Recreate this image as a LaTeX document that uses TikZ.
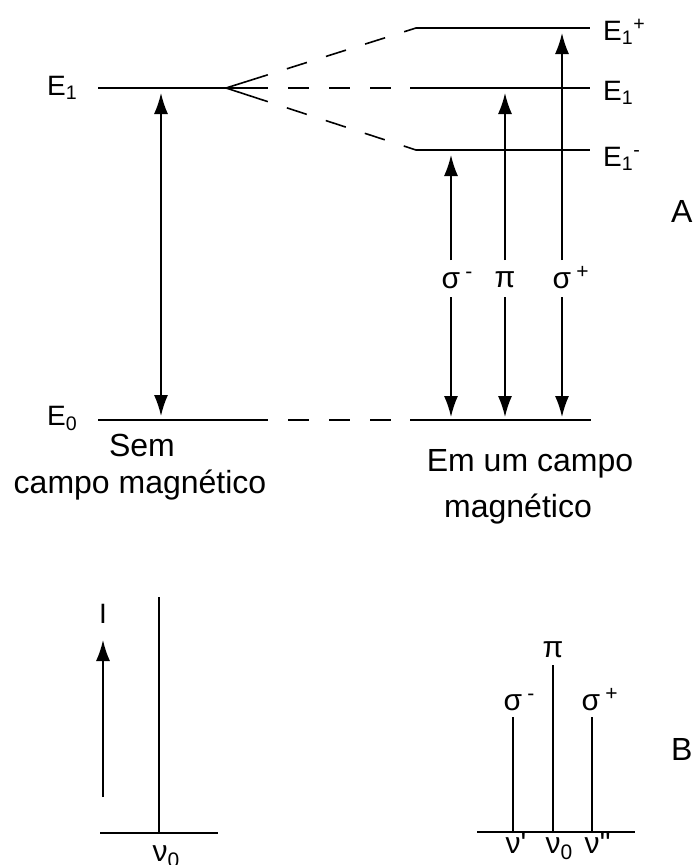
\documentclass[tikz,border=0pt]{standalone}
\usepackage{fontspec}
\newfontfamily\diagfont{Liberation Sans}
\usepackage{tikz}
\tikzset{
	level/.style={line width=1.6pt},
	split/.style={line width=1.6pt,dash pattern=on 21pt off 20pt,dash phase=21pt},
	trans/.style={line width=1.6pt,>={Latex[length=21pt,width=14pt]}},
	elabel/.style={anchor=base west,inner sep=0pt,font=\diagfont\fontsize{28}{32}\selectfont},
	greek/.style={anchor=base,inner sep=0pt,font=\diagfont\fontsize{30}{34}\selectfont},
	words/.style={anchor=base,inner sep=0pt,font=\diagfont\fontsize{32}{38}\selectfont}
}
\usetikzlibrary{calc,arrows.meta}

\begin{document}
\begin{tikzpicture}[x=1pt,y=-1pt]
\useasboundingbox (0,0) rectangle (694,865);
%
\coordinate (E1a) at (98,88);
\coordinate (S) at (226,88);
\coordinate (E1b) at (268,88);
\coordinate (E1c) at (410,88);
\coordinate (E1d) at (590,88);
\coordinate (E1pa) at (416,28);
\coordinate (E1pb) at (590,28);
\coordinate (E1ma) at (416,150);
\coordinate (E1mb) at (590,150);
\coordinate (Fu) at ($(S)!0.22!(E1pa)$);
\coordinate (Fd) at ($(S)!0.22!(E1ma)$);
\coordinate (E0a) at (98,420);
\coordinate (E0b) at (268,420);
\coordinate (E0c) at (410,420);
\coordinate (E0d) at (591,420);
%
\draw[level] (E1a) to (E1b);
\draw[level] (Fu) to (S) to (Fd);
\draw[split] (E1b) to (E1c);
\draw[split] (Fu) to (E1pa);
\draw[split] (Fd) to (E1ma);
\draw[level] (E1c) to (E1d);
\draw[level] (E1pa) to (E1pb);
\draw[level] (E1ma) to (E1mb);
\draw[level] (E0a) to (E0b);
\draw[split] (E0b) to (E0c);
\draw[level] (E0c) to (E0d);
%
\node[elabel] (lE1) at (47,95) {E\textsubscript{1}};
\node[elabel] (lE0) at (47,425) {E\textsubscript{0}};
\node[elabel] (lE1p) at (603,40) {E\textsubscript{1}\textsuperscript{+}};
\node[elabel] (lE1r) at (603,100) {E\textsubscript{1}};
\node[elabel] (lE1m) at (603,166) {E\textsubscript{1}\textsuperscript{-}};
%
\coordinate (t0) at (161,416);
\coordinate (t1) at (161,93);
\draw[trans,<->] (t0) to (t1);
%
\coordinate (sm1) at (451,155);
\coordinate (smU) at (451,260);
\coordinate (smD) at (451,297);
\coordinate (sm0) at (451,417);
\coordinate (pi1) at (505,93);
\coordinate (piU) at (505,260);
\coordinate (piD) at (505,297);
\coordinate (pi0) at (505,417);
\coordinate (sp1) at (562,33);
\coordinate (spU) at (562,260);
\coordinate (spD) at (562,297);
\coordinate (sp0) at (562,417);
\draw[trans,->] (smU) to (sm1);
\draw[trans,->] (smD) to (sm0);
\draw[trans,->] (piU) to (pi1);
\draw[trans,->] (piD) to (pi0);
\draw[trans,->] (spU) to (sp1);
\draw[trans,->] (spD) to (sp0);
\node[greek] (lsm) at (451,288) {σ\rlap{\hspace{5pt}\textsuperscript{-}}};
\node[greek] (lpi) at (505,287) {π};
\node[greek] (lsp) at (562,288) {σ\rlap{\hspace{5pt}\textsuperscript{+}}};
%
\node[words] (sem) at (142,456) {Sem};
\node[words] (semb) at (140,493) {campo magnético};
\node[words] (com) at (530,471) {Em um campo};
\node[words] (comb) at (518,517) {magnético};
\node[words,anchor=base west] (A) at (671,222) {A};
\node[words,anchor=base west] (B) at (671,760) {B};
%
\coordinate (b0a) at (100,833);
\coordinate (b0b) at (218,833);
\coordinate (n0) at (159,833);
\coordinate (n0t) at (159,597);
\coordinate (Ib) at (103,797);
\coordinate (It) at (103,640);
\draw[level] (b0a) to (b0b);
\draw[level] (n0) to (n0t);
\draw[trans,->] (Ib) to (It);
\node[elabel,anchor=base] (lI) at (103,623) {I};
\node[greek] (ln0) at (160,861) {ν\rlap{\textsubscript{0}}};
%
\coordinate (c0a) at (477,832);
\coordinate (c0b) at (635,832);
\coordinate (csm0) at (513,832);
\coordinate (csm) at (513,717);
\coordinate (cpi0) at (553,832);
\coordinate (cpi) at (553,665);
\coordinate (csp0) at (592,832);
\coordinate (csp) at (592,717);
\draw[level] (c0a) to (c0b);
\draw[level] (csm0) to (csm);
\draw[level] (cpi0) to (cpi);
\draw[level] (csp0) to (csp);
\node[greek] (bsm) at (513,710) {σ\rlap{\hspace{5pt}\textsuperscript{-}}};
\node[greek] (bpi) at (553,657) {π};
\node[greek] (bsp) at (591,710) {σ\rlap{\hspace{5pt}\textsuperscript{+}}};
\node[greek] (nu1) at (513,853) {ν\rlap{'}};
\node[greek] (nu0) at (553,853) {ν\rlap{\textsubscript{0}}};
\node[greek] (nu2) at (592,853) {ν\rlap{''}};
\end{tikzpicture}
\end{document}
